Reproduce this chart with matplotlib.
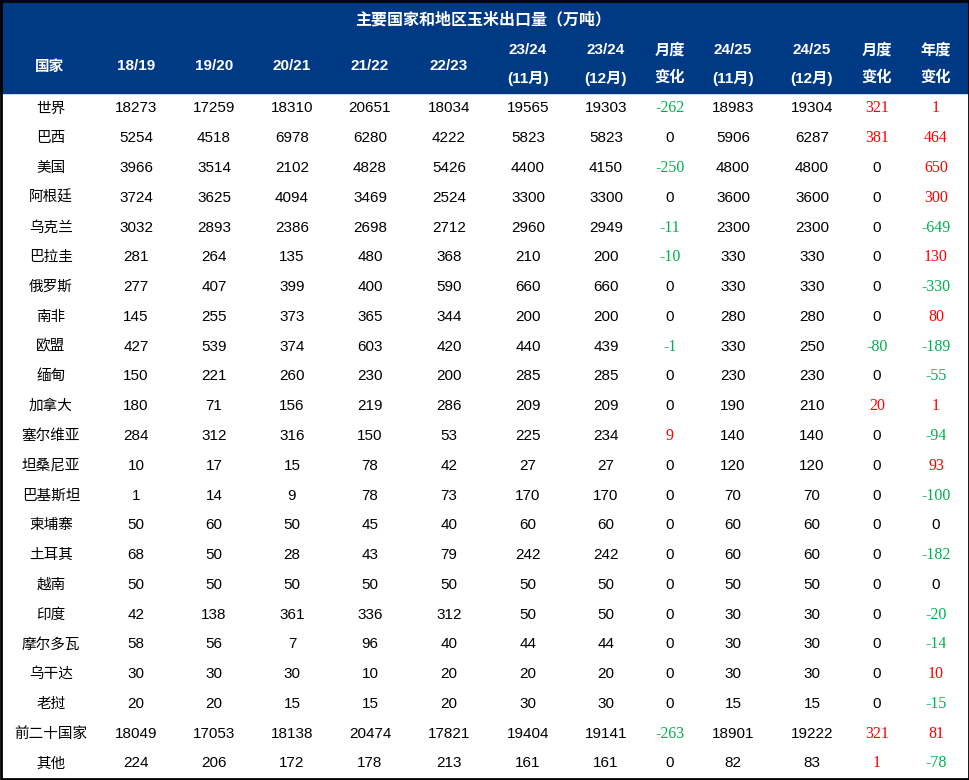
import matplotlib.pyplot as plt
from matplotlib.patches import Rectangle

plt.rcParams['font.family'] = ['Liberation Sans', 'Noto Sans CJK SC', 'DejaVu Sans']

title = '主要国家和地区玉米出口量（万吨）'
col_top = ['18/19', '19/20', '20/21', '21/22', '22/23', '23/24', '23/24', '月度',
           '24/25', '24/25', '月度', '年度']
col_bot = ['', '', '', '', '', '(11月)', '(12月)', '变化', '(11月)', '(12月)', '变化', '变化']

countries = ['世界', '巴西', '美国', '阿根廷', '乌克兰', '巴拉圭', '俄罗斯', '南非', '欧盟',
             '缅甸', '加拿大', '塞尔维亚', '坦桑尼亚', '巴基斯坦', '柬埔寨', '土耳其', '越南',
             '印度', '摩尔多瓦', '乌干达', '老挝', '前二十国家', '其他']

y1819 = [18273, 5254, 3966, 3724, 3032, 281, 277, 145, 427, 150, 180, 284, 10, 1, 50, 68, 50, 42, 58, 30, 20, 18049, 224]
y1920 = [17259, 4518, 3514, 3625, 2893, 264, 407, 255, 539, 221, 71, 312, 17, 14, 60, 50, 50, 138, 56, 30, 20, 17053, 206]
y2021 = [18310, 6978, 2102, 4094, 2386, 135, 399, 373, 374, 260, 156, 316, 15, 9, 50, 28, 50, 361, 7, 30, 15, 18138, 172]
y2122 = [20651, 6280, 4828, 3469, 2698, 480, 400, 365, 603, 230, 219, 150, 78, 78, 45, 43, 50, 336, 96, 10, 15, 20474, 178]
y2223 = [18034, 4222, 5426, 2524, 2712, 368, 590, 344, 420, 200, 286, 53, 42, 73, 40, 79, 50, 312, 40, 20, 20, 17821, 213]
y2324_nov = [19565, 5823, 4400, 3300, 2960, 210, 660, 200, 440, 285, 209, 225, 27, 170, 60, 242, 50, 50, 44, 20, 30, 19404, 161]
y2324_dec = [19303, 5823, 4150, 3300, 2949, 200, 660, 200, 439, 285, 209, 234, 27, 170, 60, 242, 50, 50, 44, 20, 30, 19141, 161]
m_chg_2324 = [-262, 0, -250, 0, -11, -10, 0, 0, -1, 0, 0, 9, 0, 0, 0, 0, 0, 0, 0, 0, 0, -263, 0]
y2425_nov = [18983, 5906, 4800, 3600, 2300, 330, 330, 280, 330, 230, 190, 140, 120, 70, 60, 60, 50, 30, 30, 30, 15, 18901, 82]
y2425_dec = [19304, 6287, 4800, 3600, 2300, 330, 330, 280, 250, 230, 210, 140, 120, 70, 60, 60, 50, 30, 30, 30, 15, 19222, 83]
m_chg_2425 = [321, 381, 0, 0, 0, 0, 0, 0, -80, 0, 20, 0, 0, 0, 0, 0, 0, 0, 0, 0, 0, 321, 1]
yr_chg = [1, 464, 650, 300, -649, 130, -330, 80, -189, -55, 1, -94, 93, -100, 0, -182, 0, -20, -14, 10, -15, 81, -78]

columns = [y1819, y1920, y2021, y2122, y2223, y2324_nov, y2324_dec, m_chg_2324,
           y2425_nov, y2425_dec, m_chg_2425, yr_chg]
change_cols = {7, 10, 11}

col_x = [136, 214, 292, 370, 449, 528, 606, 670, 733, 812, 877, 936]
name_x = 51
row_y0, row_h = 108.5, 29.77
blue = '#013A84'

fig = plt.figure(figsize=(9.7, 7.8), dpi=100)
ax = fig.add_axes([0, 0, 1, 1])
ax.set_xlim(0, 970)
ax.set_ylim(780, 0)
ax.axis('off')

# header band and outer frame
ax.add_patch(Rectangle((0, 0), 970, 93, color=blue, zorder=0))
ax.add_patch(Rectangle((1, 1), 968, 778, fill=False, edgecolor='black', linewidth=2, zorder=5))

ax.text(483, 19, title, color='white', fontsize=11.5, fontweight='bold',
        ha='center', va='center', family=['Noto Sans CJK SC'])
ax.text(50, 66, '国家', color='white', fontsize=10.5, fontweight='bold',
        ha='center', va='center', family=['Noto Sans CJK SC'])
for x, top, bot in zip(col_x, col_top, col_bot):
    if bot:
        ax.text(x, 50, top, color='white', fontsize=11, fontweight='bold', ha='center', va='center')
        ax.text(x, 78, bot, color='white', fontsize=11, fontweight='bold', ha='center', va='center')
    else:
        ax.text(x, 66, top, color='white', fontsize=11, fontweight='bold', ha='center', va='center')

for i, name in enumerate(countries):
    y = row_y0 + i * row_h
    ax.text(name_x, y, name, fontsize=10.5, ha='center', va='center',
            family=['Noto Sans CJK SC'], color='black')
    for j, (x, vals) in enumerate(zip(col_x, columns)):
        v = vals[i]
        if j in change_cols and v != 0:
            color = '#FF0000' if v > 0 else '#00B050'
            ax.text(x, y, str(v), fontsize=11.5, ha='center', va='center',
                    color=color, family=['Liberation Serif'])
        else:
            ax.text(x, y, str(v), fontsize=11, ha='center', va='center', color='black')

fig.savefig('out.png', dpi=100)
